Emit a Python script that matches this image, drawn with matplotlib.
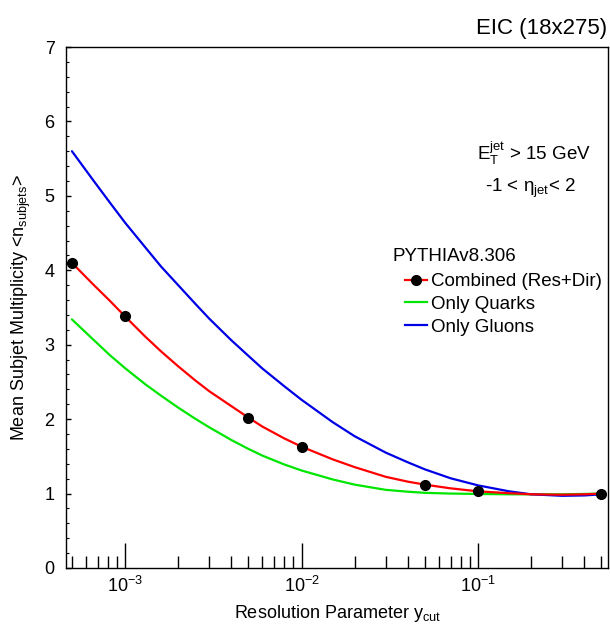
import matplotlib
matplotlib.use("Agg")
import matplotlib.pyplot as plt
from matplotlib.lines import Line2D
from matplotlib.ticker import LogLocator, MultipleLocator

plt.rcParams['font.family'] = ['Liberation Sans', 'DejaVu Sans']
plt.rcParams['mathtext.fontset'] = 'custom'
plt.rcParams['mathtext.rm'] = 'Liberation Sans'
plt.rcParams['mathtext.it'] = 'Liberation Sans'
plt.rcParams['mathtext.sf'] = 'Liberation Sans'

# PYTHIA points (combined resolved + direct)
ycut_points = [5e-4, 1e-3, 5e-3, 1e-2, 5e-2, 0.1, 0.5]
nsub_points = [4.10, 3.38, 2.02, 1.63, 1.12, 1.03, 1.00]

# curves
ycut_curve = [5e-4, 6.6e-4, 8.2e-4, 1e-3, 1.3e-3, 1.6e-3, 2e-3, 2.5e-3, 3e-3,
              4e-3, 5e-3, 6e-3, 8e-3, 1e-2, 1.5e-2, 2e-2, 3e-2, 4e-2, 5e-2,
              7e-2, 0.1, 0.15, 0.2, 0.3, 0.4, 0.5]
combined_curve = [4.10, 3.81, 3.59, 3.38, 3.11, 2.91, 2.71, 2.52, 2.375,
                  2.175, 2.02, 1.90, 1.74, 1.63, 1.46, 1.355, 1.225, 1.16, 1.12,
                  1.07, 1.03, 1.005, 0.99, 0.985, 0.99, 1.00]
quarks_curve = [3.34, 3.07, 2.86, 2.685, 2.47, 2.315, 2.155, 2.005, 1.89,
                1.72, 1.60, 1.51, 1.39, 1.31, 1.19, 1.12, 1.05, 1.025, 1.01,
                1.00, 0.995, 0.99, 0.99, 0.99, 0.995, 1.00]
gluons_curve = [5.60, 5.21, 4.91, 4.64, 4.31, 4.05, 3.80, 3.55, 3.35,
                3.06, 2.85, 2.68, 2.44, 2.26, 1.96, 1.77, 1.55, 1.42, 1.325,
                1.205, 1.11, 1.03, 0.99, 0.97, 0.975, 0.99]

fig = plt.figure(figsize=(6.1, 6.25), dpi=100)
ax = fig.add_axes([0.1077, 0.0912, 0.8898, 0.8336])

line_kw = dict(lw=1.6, solid_joinstyle='round', solid_capstyle='round')
ax.plot(ycut_curve, quarks_curve, color='#00e600', **line_kw)
ax.plot(ycut_curve, gluons_curve, color='#0000e6', **line_kw)
ax.plot(ycut_curve, combined_curve, color='#ff0000', **line_kw)
ax.plot(ycut_points, nsub_points, 'o', color='black', ms=7)

ax.set_xscale('log')
ax.set_xlim(4.61e-4, 0.548)
ax.set_ylim(0, 7)

ax.xaxis.set_major_locator(LogLocator(base=10, numticks=10))
ax.xaxis.set_minor_locator(LogLocator(base=10, subs=range(2, 10), numticks=20))
ax.yaxis.set_major_locator(MultipleLocator(1))
ax.yaxis.set_minor_locator(MultipleLocator(0.2))
ax.tick_params(which='both', direction='in', top=False, right=False, labelsize=13)
ax.tick_params(axis='x', which='major', length=18, width=1, pad=6)
ax.tick_params(axis='x', which='minor', length=9, width=1)
ax.tick_params(axis='y', which='major', length=3.5, width=1, pad=8)
ax.tick_params(axis='y', which='minor', length=2, width=0.8)
for sp in ax.spines.values():
    sp.set_linewidth(1.0)

ax.set_xlabel(r'Resolution Parameter y$_{\rm cut}$', fontsize=13, labelpad=5)
ax.set_ylabel(r'Mean Subjet Multiplicity <n$_{\rm subjets}$>', fontsize=13, labelpad=8)

fig.text(0.995, 0.955, 'EIC (18x275)', ha='right', va='center', fontsize=16)

ax.text(0.967, 0.796, r'E$_{\rm T}^{\rm jet}$ > 15 GeV', transform=ax.transAxes,
        ha='right', va='center', fontsize=13.5)
ax.text(0.94, 0.729, r'-1 < η$_{\rm jet}$< 2', transform=ax.transAxes,
        ha='right', va='center', fontsize=13.5)
ax.text(0.603, 0.598, 'PYTHIAv8.306', transform=ax.transAxes,
        ha='left', va='center', fontsize=13.5)

handles = [
    Line2D([], [], color='#ff0000', lw=1.6, marker='o', mfc='black', mec='black', ms=7),
    Line2D([], [], color='#00e600', lw=1.6),
    Line2D([], [], color='#0000e6', lw=1.6),
]
labels = ['Combined (Res+Dir)', 'Only Quarks', 'Only Gluons']
ax.legend(handles, labels, loc='upper left', bbox_to_anchor=(0.625, 0.566),
          frameon=False, fontsize=13.5, handlelength=1.2, handletextpad=0.2,
          labelspacing=0.3, borderaxespad=0, borderpad=0)

fig.savefig('out.png', dpi=100)
